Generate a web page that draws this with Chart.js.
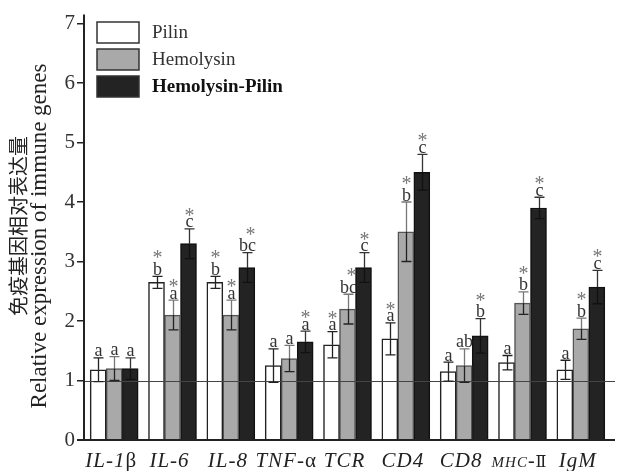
<!DOCTYPE html>
<html>
<head>
<meta charset="utf-8">
<script src="https://cdn.jsdelivr.net/npm/chart.js@4"></script>
<style>
html, body { margin: 0; padding: 0; background: #fff; }
#wrap { width: 619px; height: 471px; }
</style>
</head>
<body>
<div id="wrap"><canvas id="chart" width="619" height="471"></canvas></div>
<script>
// data
const genes = ["IL-1β", "IL-6", "IL-8", "TNF-α", "TCR", "CD4", "CD8", "MHC-Ⅱ", "IgM"];

const pilin        = [1.18, 2.65, 2.65, 1.25, 1.60, 1.70, 1.15, 1.30, 1.18];
const pilinErr     = [0.20, 0.10, 0.10, 0.28, 0.22, 0.27, 0.16, 0.12, 0.16];
const hemolysin    = [1.20, 2.10, 2.10, 1.37, 2.20, 3.50, 1.25, 2.30, 1.87];
const hemolysinErr = [0.20, 0.25, 0.25, 0.22, 0.25, 0.50, 0.28, 0.19, 0.18];
const hemoPilin    = [1.20, 3.30, 2.90, 1.65, 2.90, 4.50, 1.75, 3.90, 2.57];
const hemoPilinErr = [0.18, 0.25, 0.25, 0.18, 0.25, 0.30, 0.29, 0.18, 0.28];

// significance letters and asterisks
const pilinSig     = ["a", "b", "b", "a", "a", "a", "a", "a", "a"];
const pilinStar    = [0, 1, 1, 0, 1, 1, 0, 0, 0];
const hemolysinSig = ["a", "a", "a", "a", "bc", "b", "ab", "b", "b"];
const hemolysinStar = [0, 1, 1, 0, 1, 1, 0, 1, 1];
const hemoPilinSig = ["a", "c", "bc", "a", "c", "c", "b", "c", "c"];
const hemoPilinStar = [0, 1, 1, 1, 1, 1, 1, 1, 1];

const yTicks = [0, 1, 2, 3, 4, 5, 6, 7];

const SERIF = "'Liberation Serif', 'DejaVu Serif', serif";

function errorMarks(chart) {
	const ctx = chart.ctx;
	const y = chart.scales.y;

	chart.data.datasets.forEach(function(ds, di) {
		const meta = chart.getDatasetMeta(di);
		meta.data.forEach(function(bar, i) {
			const v = ds.data[i], e = ds.err[i];
			const x = Math.round(bar.x) + 0.5;
			const top = y.getPixelForValue(v + e);
			const mid = y.getPixelForValue(v);
			const bot = y.getPixelForValue(v - e);
			ctx.save();
			ctx.lineWidth = 1.3;
			// whisker above the bar
			ctx.strokeStyle = ds.errUp;
			ctx.beginPath();
			ctx.moveTo(x, mid); ctx.lineTo(x, top);
			ctx.moveTo(x - 5, top); ctx.lineTo(x + 5, top);
			ctx.stroke();
			// whisker inside the bar
			ctx.strokeStyle = ds.errDown;
			ctx.beginPath();
			ctx.moveTo(x, mid); ctx.lineTo(x, bot);
			ctx.moveTo(x - 5, bot); ctx.lineTo(x + 5, bot);
			ctx.stroke();

			// letters + asterisk
			const letter = ds.sig[i];
			ctx.textAlign = "center";
			ctx.textBaseline = "alphabetic";
			ctx.font = "18px " + SERIF;
			ctx.fillStyle = "#333";
			const base = top - 1.5;
			ctx.fillText(letter, x, base);
			if(ds.star[i]) {
				const tall = /[bd]/.test(letter);
				ctx.font = "20px " + SERIF;
				ctx.fillStyle = "#777";
				ctx.fillText("*", x + (letter.length > 1 ? 3 : 0), base - (tall ? 10.5 : 5.5));
			}
			ctx.restore();
		});
	});
}

const overlay = {
	id: "overlay",
	afterDatasetsDraw(chart) {
		const ctx = chart.ctx;
		const area = chart.chartArea;
		const y = chart.scales.y;
		const x = chart.scales.x;

		// baseline at 1
		const y1 = Math.round(y.getPixelForValue(1)) + 0.5;
		ctx.save();
		ctx.strokeStyle = "#444";
		ctx.lineWidth = 1;
		ctx.beginPath();
		ctx.moveTo(area.left, y1);
		ctx.lineTo(615, y1);
		ctx.stroke();
		ctx.restore();

		errorMarks(chart);

		// axis lines
		ctx.save();
		ctx.strokeStyle = "#222";
		ctx.lineWidth = 2;
		ctx.beginPath();
		ctx.moveTo(84, area.top);
		ctx.lineTo(84, area.bottom + 1);
		ctx.moveTo(77, area.bottom);
		ctx.lineTo(615, area.bottom);
		ctx.stroke();
		ctx.restore();

		// x labels: italic gene names, greek letters / numerals upright
		ctx.save();
		ctx.fillStyle = "#222";
		ctx.textBaseline = "alphabetic";
		ctx.letterSpacing = "1px";
		genes.forEach(function(g, i) {
			const cx = x.getPixelForTick(i) - 3;
			let parts;
			if(g.startsWith("MHC"))
				parts = [["italic 15px", "MHC"], ["italic 20px", "-"], ["16px", "Ⅱ"]];
			else if(/[βα]$/.test(g))
				parts = [["italic 21px", g.slice(0, -1)], ["21px", g.slice(-1)]];
			else
				parts = [["italic 21px", g]];
			let w = 0;
			parts.forEach(function(p) {
				ctx.font = p[0] + " " + SERIF;
				w += ctx.measureText(p[1]).width;
			});
			let px = cx - w / 2;
			parts.forEach(function(p) {
				ctx.font = p[0] + " " + SERIF;
				ctx.textAlign = "left";
				ctx.fillText(p[1], px, 467);
				px += ctx.measureText(p[1]).width;
			});
		});
		ctx.restore();

		// legend in the plot corner
		ctx.save();
		chart.data.datasets.forEach(function(ds, di) {
			const top = 22 + di * 27;
			ctx.fillStyle = ds.backgroundColor;
			ctx.fillRect(97, top, 42, 21);
			ctx.strokeStyle = "#333";
			ctx.lineWidth = 1.5;
			ctx.strokeRect(97, top, 42, 21);
			ctx.fillStyle = di === 2 ? "#111" : "#333";
			ctx.font = (di === 2 ? "bold " : "") + "19px " + SERIF;
			ctx.textAlign = "left";
			ctx.textBaseline = "middle";
			ctx.fillText(ds.label, 152, top + 11);
		});
		ctx.restore();

		// y axis title, two lines
		ctx.save();
		ctx.translate(18, 226);
		ctx.rotate(-Math.PI / 2);
		ctx.textAlign = "center";
		ctx.textBaseline = "middle";
		ctx.fillStyle = "#222";
		ctx.font = "20px 'Noto Sans CJK SC'";
		ctx.fillText("免疫基因相对表达量", 0, 0);
		ctx.restore();
		ctx.save();
		ctx.translate(40, 236);
		ctx.rotate(-Math.PI / 2);
		ctx.textAlign = "center";
		ctx.textBaseline = "middle";
		ctx.fillStyle = "#222";
		ctx.font = "23px " + SERIF;
		ctx.fillText("Relative expression of immune genes", 0, 0);
		ctx.restore();
	}
};

new Chart(document.getElementById("chart").getContext("2d"), {
	type: "bar",
	data: {
		labels: genes,
		datasets: [
			{
				label: "Pilin", data: pilin, err: pilinErr, sig: pilinSig, star: pilinStar,
				backgroundColor: "#ffffff", borderColor: "#222", borderWidth: 1.5,
				errUp: "#222", errDown: "#222"
			},
			{
				label: "Hemolysin", data: hemolysin, err: hemolysinErr, sig: hemolysinSig, star: hemolysinStar,
				backgroundColor: "#a9a9a9", borderColor: "#555", borderWidth: 1.5,
				errUp: "#777", errDown: "#222"
			},
			{
				label: "Hemolysin-Pilin", data: hemoPilin, err: hemoPilinErr, sig: hemoPilinSig, star: hemoPilinStar,
				backgroundColor: "#232323", borderColor: "#111", borderWidth: 1.5,
				errUp: "#333", errDown: "#111"
			}
		]
	},
	options: {
		responsive: false,
		animation: false,
		devicePixelRatio: 1,
		barThickness: 16,
		layout: { padding: { left: 0, right: 9, top: 10, bottom: 0 } },
		plugins: { legend: { display: false }, tooltip: { enabled: false } },
		scales: {
			x: {
				grid: { display: false },
				border: { display: false },
				ticks: { display: false },
				afterFit(scale) { scale.height = 31; }
			},
			y: {
				min: 0,
				max: 7.15,
				border: { display: false },
				grid: { drawOnChartArea: false, tickLength: 8, color: "#222", lineWidth: 1.5 },
				ticks: {
					color: "#333",
					padding: 2,
					font: { family: SERIF, size: 21 }
				},
				afterBuildTicks(axis) {
					axis.ticks = yTicks.map(function(v) { return { value: v }; });
				},
				afterFit(scale) { scale.width = 85; }
			}
		}
	},
	plugins: [overlay]
});
</script>
</body>
</html>
